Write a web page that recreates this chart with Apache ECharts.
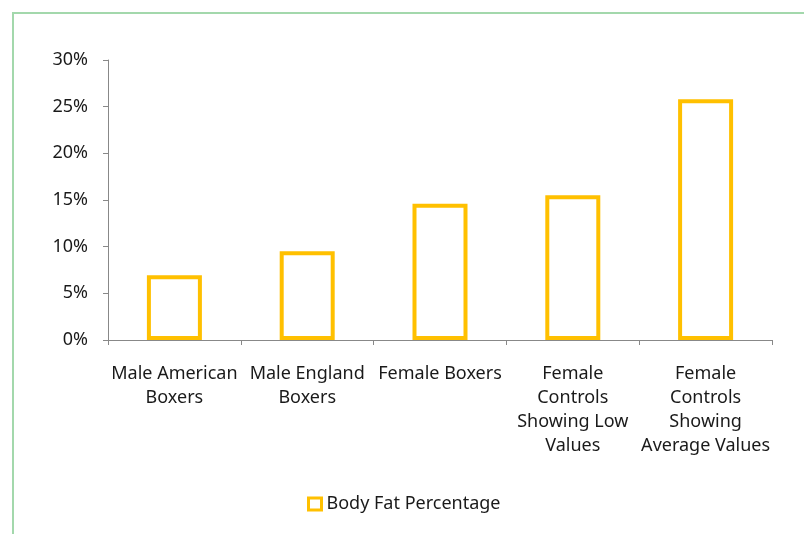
<!DOCTYPE html>
<html>
<head>
<meta charset="utf-8">
<script src="https://cdn.jsdelivr.net/npm/echarts@6/dist/echarts.min.js"></script>
<style>
  html, body { margin: 0; padding: 0; background: #fff; }
  #chart { width: 804px; height: 534px; }
</style>
</head>
<body>
<div id="chart"></div>
<script>
  var categories = ['Male American\nBoxers', 'Male England\nBoxers', 'Female Boxers', 'Female\nControls\nShowing Low\nValues', 'Female\nControls\nShowing\nAverage Values']
  var bodyFat = [6.95, 9.5, 14.6, 15.5, 25.8]
  var seriesName = 'Body Fat Percentage'

  var myChart = echarts.init(document.getElementById('chart'))
  myChart.setOption({
    animation: false,
    textStyle: { fontFamily: 'Noto Sans' },
    graphic: [{
      type: 'rect',
      shape: { x: 13, y: 13, width: 900, height: 600 },
      style: { fill: 'none', stroke: '#a3d8ac', lineWidth: 2 },
      silent: true
    }],
    grid: { left: 108, right: 32, top: 60, bottom: 194 },
    legend: {
      left: 302,
      top: 490,
      itemWidth: 13,
      itemHeight: 12,
      icon: 'rect',
      itemStyle: { color: '#fff', borderColor: '#FFC000', borderWidth: 3 },
      textStyle: { fontSize: 18, color: '#1a1a1a', fontFamily: 'Noto Sans' },
      data: [seriesName]
    },
    xAxis: {
      type: 'category',
      data: categories,
      axisLine: { lineStyle: { color: '#888', width: 1 } },
      axisTick: { show: true, length: 5, lineStyle: { color: '#888' } },
      axisLabel: { interval: 0, fontSize: 18, color: '#1a1a1a', lineHeight: 24, margin: 22 }
    },
    yAxis: {
      type: 'value',
      min: 0,
      max: 30,
      interval: 5,
      splitLine: { show: false },
      axisLine: { show: true, lineStyle: { color: '#888', width: 1 } },
      axisTick: { show: true, length: 5, lineStyle: { color: '#888' } },
      axisLabel: { fontSize: 18, color: '#1a1a1a', margin: 20, formatter: '{value}%' }
    },
    series: [{
      name: seriesName,
      type: 'bar',
      data: bodyFat,
      barWidth: 55,
      itemStyle: { color: '#fff', borderColor: '#FFC000', borderWidth: 4 }
    }]
  })
</script>
</body>
</html>
